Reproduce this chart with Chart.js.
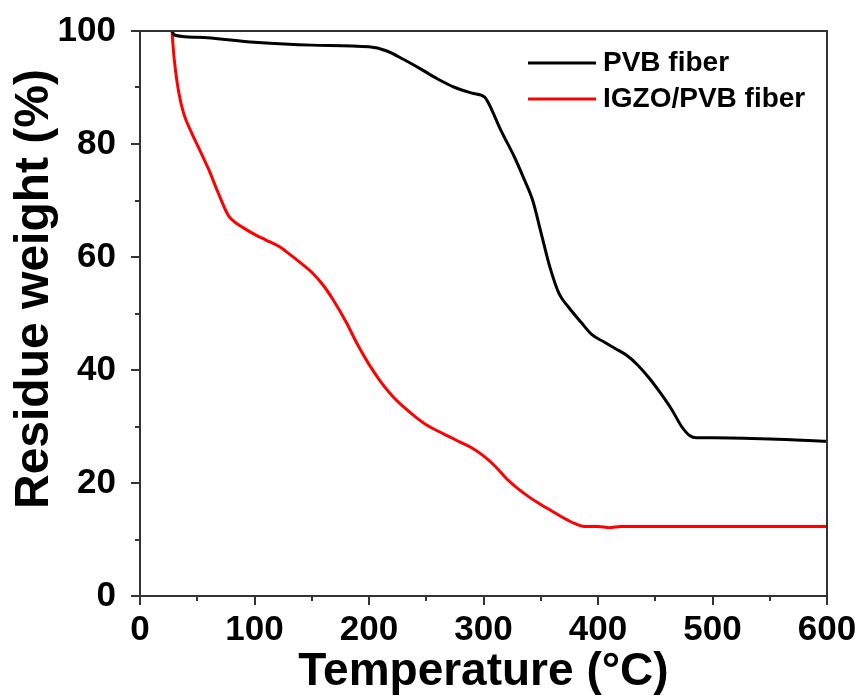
<!DOCTYPE html>
<html>
<head>
<meta charset="utf-8">
<script src="https://cdn.jsdelivr.net/npm/chart.js@4/dist/chart.umd.min.js"></script>
<style>
  body { margin: 0; background: #fff; }
  #wrap { width: 866px; height: 700px; }
</style>
</head>
<body>
<div id="wrap"><canvas id="tga-chart" width="866" height="700"></canvas></div>
<script>
// TGA curves (temperature in °C, residue in %)
const pvbTemp = [28, 30, 50, 100, 150, 200, 215, 230, 245, 260, 275, 290, 301, 305, 315, 327, 335, 343, 350, 358, 366, 374, 385, 395, 405, 415, 425, 435, 445, 455, 465, 473, 480, 486, 500, 550, 600]
const pvbWeight = [100, 99.3, 98.9, 98.0, 97.5, 97.2, 96.5, 95.0, 93.3, 91.5, 90.0, 89.0, 88.3, 87.0, 82.5, 77.7, 74.0, 70.0, 64.5, 58.2, 53.5, 51.2, 48.5, 46.2, 45.0, 43.8, 42.6, 40.8, 38.5, 35.8, 32.8, 30.0, 28.4, 28.0, 28.0, 27.8, 27.4]

const igzoTemp = [28, 29, 31, 34, 38, 45, 52, 60, 68, 77, 82, 90, 100, 110, 122, 130, 140, 150, 160, 170, 180, 190, 200, 210, 220, 230, 240, 250, 260, 270, 280, 290, 300, 310, 320, 330, 340, 350, 360, 370, 380, 388, 400, 410, 420, 500, 600]
const igzoWeight = [100, 97, 93, 89, 85.5, 82, 79, 75.5, 71.5, 67.4, 66.3, 65.2, 64.0, 63.0, 61.8, 60.6, 59.0, 57.3, 55.0, 52.0, 48.5, 44.5, 41.0, 38.0, 35.5, 33.5, 31.8, 30.3, 29.2, 28.2, 27.2, 26.2, 24.8, 23.0, 20.8, 19.0, 17.5, 16.2, 15.0, 13.8, 12.8, 12.3, 12.3, 12.1, 12.3, 12.3, 12.3]

const seriesNames = ['PVB fiber', 'IGZO/PVB fiber']
const seriesColors = ['#000000', '#ff0000']

const xTicks = [0, 100, 200, 300, 400, 500, 600]
const yTicks = [0, 20, 40, 60, 80, 100]
const yTitle = 'Residue weight (%)'

const FONT = "'Liberation Sans', Arial, sans-serif"

function toPoints(xs, ys) {
    return xs.map((x, i) => ({ x: x, y: ys[i] }))
}

// frame box + outward major/minor ticks + y title (sits a bit above centre in the original)
const framePlugin = {
    id: 'frame',
    afterDraw(chart) {
        const ctx = chart.ctx
        const a = chart.chartArea
        const xs = chart.scales.x
        const ys = chart.scales.y
        ctx.save()
        ctx.strokeStyle = '#333'
        ctx.lineWidth = 2
        ctx.strokeRect(a.left, a.top, a.right - a.left, a.bottom - a.top)
        ctx.beginPath()
        for (let v = 0; v <= 600; v += 50) {
            const px = Math.round(xs.getPixelForValue(v))
            const len = v % 100 === 0 ? 9 : 5
            ctx.moveTo(px, a.bottom)
            ctx.lineTo(px, a.bottom + len)
        }
        for (let v = 0; v <= 100; v += 10) {
            const py = Math.round(ys.getPixelForValue(v))
            const len = v % 20 === 0 ? 9 : 5
            ctx.moveTo(a.left, py)
            ctx.lineTo(a.left - len, py)
        }
        ctx.stroke()

        ctx.translate(35, 289)
        ctx.rotate(-Math.PI / 2)
        ctx.font = 'bold 48px ' + FONT
        ctx.fillStyle = '#000'
        ctx.textAlign = 'center'
        ctx.textBaseline = 'middle'
        ctx.fillText(yTitle, 0, 0)
        ctx.restore()
    }
}

// legend inside the top-right corner
const insideLegend = {
    id: 'insideLegend',
    afterDraw(chart) {
        const ctx = chart.ctx
        ctx.save()
        ctx.font = 'bold 28px ' + FONT
        ctx.textBaseline = 'middle'
        ctx.fillStyle = '#000'
        chart.data.datasets.forEach((ds, i) => {
            const y = 63 + i * 36
            ctx.strokeStyle = ds.borderColor
            ctx.lineWidth = 3
            ctx.beginPath()
            ctx.moveTo(528, y)
            ctx.lineTo(596, y)
            ctx.stroke()
            ctx.fillText(ds.label, 603, y)
        })
        ctx.restore()
    }
}

const tgaCanvas = document.querySelector('#tga-chart').getContext('2d')

const tgaChart = new Chart(tgaCanvas, {
    type: 'scatter',
    data: {
        datasets: [
            {
                label: seriesNames[0],
                data: toPoints(pvbTemp, pvbWeight),
                borderColor: seriesColors[0],
                backgroundColor: seriesColors[0],
                showLine: true,
                borderWidth: 3,
                pointRadius: 0,
                cubicInterpolationMode: 'monotone'
            },
            {
                label: seriesNames[1],
                data: toPoints(igzoTemp, igzoWeight),
                borderColor: seriesColors[1],
                backgroundColor: seriesColors[1],
                showLine: true,
                borderWidth: 3,
                pointRadius: 0,
                cubicInterpolationMode: 'monotone'
            }
        ]
    },
    options: {
        responsive: false,
        animation: false,
        layout: { padding: { top: 31, right: 39, left: 0, bottom: 0 } },
        plugins: {
            legend: { display: false },
            tooltip: { enabled: false }
        },
        scales: {
            x: {
                type: 'linear',
                min: 0,
                max: 600,
                afterBuildTicks: scale => { scale.ticks = xTicks.map(v => ({ value: v })) },
                afterFit: scale => {
                    scale.height = 104
                    scale.paddingLeft = 0
                    scale.paddingRight = 0
                },
                grid: { display: false },
                border: { display: false },
                ticks: {
                    color: '#000',
                    padding: 5,
                    maxRotation: 0,
                    font: { family: FONT, size: 35, weight: 'bold' }
                },
                title: {
                    display: true,
                    text: 'Temperature (°C)',
                    color: '#000',
                    padding: { top: 0, bottom: 0 },
                    font: { family: FONT, size: 46, weight: 'bold', lineHeight: 1.2 }
                }
            },
            y: {
                min: 0,
                max: 100,
                afterBuildTicks: scale => { scale.ticks = yTicks.map(v => ({ value: v })) },
                afterFit: scale => {
                    scale.width = 140
                    scale.paddingTop = 0
                    scale.paddingBottom = 0
                },
                grid: { display: false },
                border: { display: false },
                ticks: {
                    color: '#000',
                    padding: 16,
                    font: { family: FONT, size: 35, weight: 'bold' }
                }
            }
        }
    },
    plugins: [framePlugin, insideLegend]
})
</script>
</body>
</html>
